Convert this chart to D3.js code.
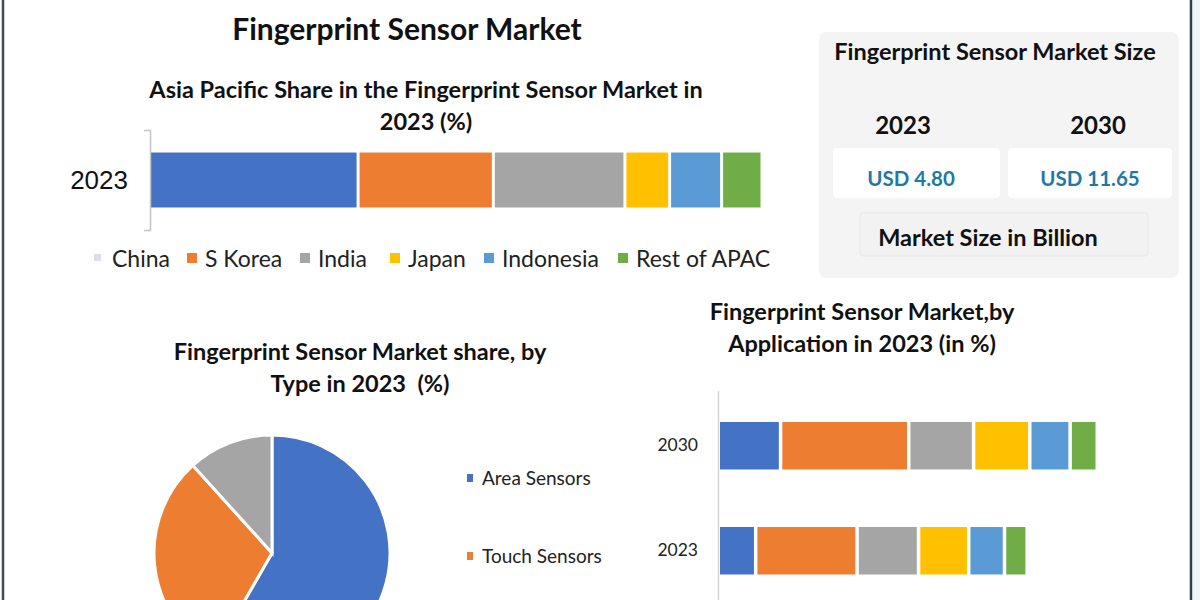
<!DOCTYPE html>
<html>
<head>
<meta charset="utf-8">
<script src="https://cdn.jsdelivr.net/npm/d3@7"></script>
<style>
  html, body { margin: 0; padding: 0; background: #ffffff; }
  svg { display: block; font-family: Lato, "Open Sans", sans-serif; }
</style>
</head>
<body>
<svg id="chart" width="1200" height="600"></svg>
<script>
// ---------- DATA ----------
const apacCategories = ["2023"];
const apacRegions = ["China", "S Korea", "India", "Japan", "Indonesia", "Rest of APAC"];
const apacShare2023 = [34.0, 22.1, 21.5, 7.3, 8.5, 6.6];

const sizeYears = ["2023", "2030"];
const sizeValues = ["USD 4.80", "USD 11.65"];

const typeNames = ["Area Sensors", "Touch Sensors", "Others"];
const typeShare = [58.3, 30.0, 11.7];

const appYears = ["2030", "2023"];
const appNames = ["Smartphones & Tablets", "Consumer Electronics", "Government & Law Enforcement", "Banking & Finance", "Healthcare", "Others"];
const app2030 = [16.0, 34.0, 17.2, 14.9, 10.7, 7.2];
const app2023 = [9.4, 26.9, 16.3, 13.3, 9.5, 6.0];

const palette = ["#4472C4", "#ED7D31", "#A5A5A5", "#FFC000", "#5B9BD5", "#70AD47"];
const apacLegendColors = ["#dcdcec", "#ED7D31", "#A5A5A5", "#FFC000", "#5B9BD5", "#70AD47"];

// ---------- SETUP ----------
const svg = d3.select("#chart");
svg.append("rect").attr("width", 1200).attr("height", 600).attr("fill", "#fff");
svg.append("line").attr("x1", 3).attr("x2", 3).attr("y1", 0).attr("y2", 600)
  .attr("stroke", "#3c4a55").attr("stroke-width", 2.5);
svg.append("line").attr("x1", 1191).attr("x2", 1191).attr("y1", 0).attr("y2", 600)
  .attr("stroke", "#2f3f4a").attr("stroke-width", 2.5);
svg.append("rect").attr("x", 1193).attr("y", 0).attr("width", 7).attr("height", 600).attr("fill", "#eef6f8");

function title(x, y, size, txt) {
  return svg.append("text").attr("x", x).attr("y", y).attr("text-anchor", "middle")
    .attr("font-weight", 700).attr("font-size", size).attr("fill", "#111")
    .attr("xml:space", "preserve").text(txt);
}

title(407, 40, 30, "Fingerprint Sensor Market");

// ---------- APAC stacked bar ----------
title(426, 98, 23.5, "Asia Pacific Share in the Fingerprint Sensor Market in");
title(426, 130, 23.5, "2023 (%)");

const xA = d3.scaleLinear().domain([0, d3.sum(apacShare2023)]).range([150, 762]);
const yA = d3.scaleBand().domain(apacCategories).range([130, 230]).paddingInner(0).paddingOuter(0.41);

let acc = 0;
const apacStack = apacShare2023.map((v, i) => { const s = acc; acc += v; return {i, s, e: acc}; });
svg.append("g").selectAll("rect").data(apacStack).join("rect")
  .attr("x", d => xA(d.s) + (d.i ? 1.5 : 0))
  .attr("y", yA("2023"))
  .attr("width", d => xA(d.e) - xA(d.s) - (d.i ? 3 : 1.5))
  .attr("height", yA.bandwidth())
  .attr("fill", d => palette[d.i]);

const axA = svg.append("g").attr("transform", "translate(150,0)")
  .call(d3.axisLeft(yA).tickSize(0).tickPadding(22).tickSizeOuter(6));
axA.select(".domain").attr("stroke", "#c4c4c4").attr("stroke-width", 1.5);
axA.selectAll("text").attr("font-family", "Liberation Sans, Arial, sans-serif")
  .attr("font-size", 26).attr("fill", "#111").attr("dy", "0.36em");

// legend
const legX = [98, 191, 304, 394, 488, 622];
const lg = svg.append("g");
apacRegions.forEach((name, i) => {
  lg.append("rect").attr("x", legX[i] - 4).attr("y", i === 0 ? 254 : 253)
    .attr("width", i === 0 ? 7 : 10).attr("height", i === 0 ? 7 : 10)
    .attr("fill", apacLegendColors[i]);
  lg.append("text").attr("x", legX[i] + 14).attr("y", 267).attr("font-size", 23).attr("fill", "#222")
    .text(name);
});

// ---------- Market size box ----------
svg.append("rect").attr("x", 819).attr("y", 32).attr("width", 360).attr("height", 246)
  .attr("rx", 8).attr("fill", "#f4f4f4");
title(995, 60, 23.5, "Fingerprint Sensor Market Size");
const boxX = [833, 1008];
const boxW = [167, 164];
const yearX = [903, 1098];
const valX = [911, 1090];
sizeYears.forEach((yr, i) => {
  title(yearX[i], 134, 24, yr);
  svg.append("rect").attr("x", boxX[i]).attr("y", 148).attr("width", boxW[i]).attr("height", 50)
    .attr("rx", 4).attr("fill", "#ffffff");
  svg.append("text").attr("x", valX[i]).attr("y", 186).attr("text-anchor", "middle")
    .attr("font-weight", 700).attr("font-size", 20.5).attr("fill", "#1f78a8").text(sizeValues[i]);
});
svg.append("rect").attr("x", 860).attr("y", 213).attr("width", 288).attr("height", 43)
  .attr("rx", 3).attr("fill", "#f2f2f2").attr("stroke", "#e8e8e8");
title(988, 246, 23.5, "Market Size in Billion");

// ---------- Pie by type ----------
title(360, 360, 23.5, "Fingerprint Sensor Market share, by");
title(360, 392, 23.5, "Type in 2023  (%)");

const pie = d3.pie().sort(null).value(d => d)(typeShare);
const arc = d3.arc().innerRadius(0).outerRadius(118);
svg.append("g").attr("transform", "translate(272,553)")
  .selectAll("path").data(pie).join("path")
  .attr("d", arc).attr("fill", (d, i) => palette[i])
  .attr("stroke", "#fff").attr("stroke-width", 3);

// legend entries (the third falls below the visible area, as in the source image)
typeNames.forEach((n, i) => {
  const y = 478 + i * 78;
  if (y > 590) return;
  svg.append("rect").attr("x", 467).attr("y", y - 4).attr("width", 6).attr("height", 8).attr("fill", palette[i]);
  svg.append("text").attr("x", 482).attr("y", y + 7).attr("font-size", 19).attr("fill", "#222").text(n);
});

// ---------- Application bars ----------
title(862, 320, 23.5, "Fingerprint Sensor Market,by");
title(862, 352, 23.5, "Application in 2023 (in %)");

const xB = d3.scaleLinear().domain([0, 120]).range([720, 720 + 452.4]);
const yB = d3.scaleBand().domain(appYears).range([390.5, 606]).paddingInner(0.548).paddingOuter(0.3);
const appSeries = { "2030": app2030, "2023": app2023 };
const gB = svg.append("g");
appYears.forEach(yr => {
  let a = 0;
  const st = appSeries[yr].map((v, i) => { const s = a; a += v; return {i, s, e: a}; });
  gB.append("g").selectAll("rect").data(st).join("rect")
    .attr("x", d => xB(d.s) + (d.i ? 2 : 0))
    .attr("y", yB(yr))
    .attr("width", d => xB(d.e) - xB(d.s) - (d.i ? 3.5 : 1.5))
    .attr("height", yB.bandwidth())
    .attr("fill", d => palette[d.i]);
});
const axB = svg.append("g").attr("transform", "translate(718,0)")
  .call(d3.axisLeft(yB).tickSize(0).tickPadding(20).tickSizeOuter(0));
axB.select(".domain").attr("stroke", "#d4d4d4").attr("stroke-width", 1.5);
axB.selectAll("text").attr("font-family", "Lato, sans-serif").attr("font-size", 17.5).attr("fill", "#222");
</script>
</body>
</html>
